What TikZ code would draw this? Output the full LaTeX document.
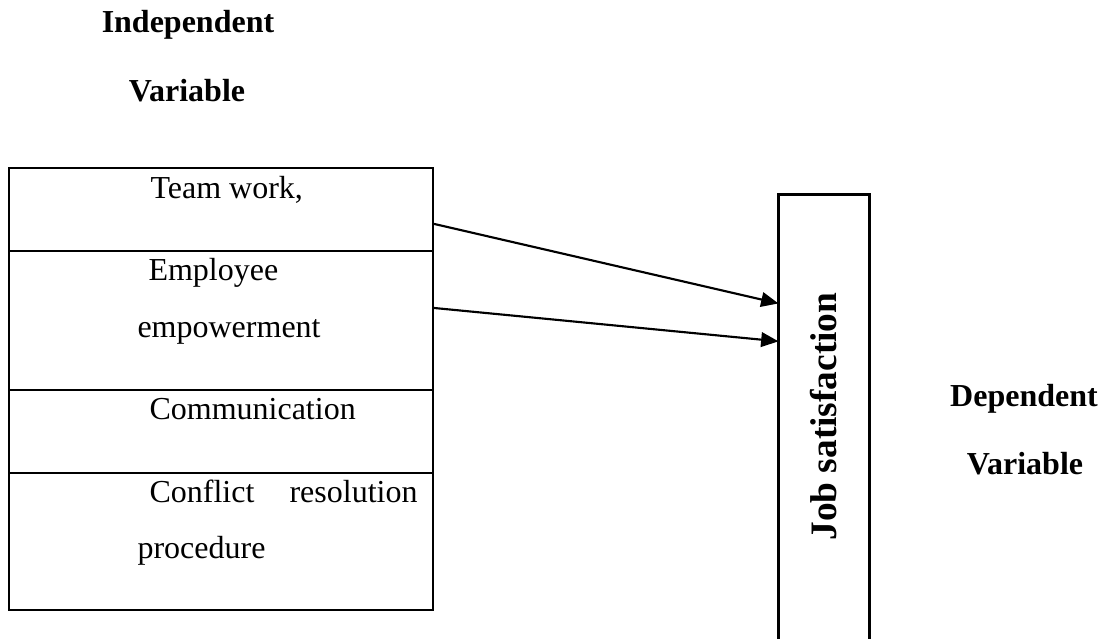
\documentclass[tikz,border=0pt]{standalone}
\usepackage{fontspec}
\setmainfont{Liberation Serif}
\usepackage{tikz}
\usetikzlibrary{arrows.meta}
\newcommand{\pix}{0.375pt}

\begin{document}
\begin{tikzpicture}[auto, x=\pix, y=-\pix,
	cell/.style={draw, line width=0.8pt, minimum width=424*\pix, inner sep=0pt},
	txt/.style={anchor=base west, inner sep=0pt, font=\fontsize{12pt}{14pt}\selectfont},
	head/.style={anchor=base, inner sep=0pt, font=\fontsize{12pt}{14pt}\selectfont\bfseries},
	arr/.style={-{Triangle[length=6.5pt, width=5.5pt]}, line width=0.8pt}]
	\useasboundingbox (0, 0) rectangle (1100, 638);

	\node (indep) [head] at (188, 32) {Independent};
	\node (indepvar) [head] at (187, 101) {Variable};
	\node (dep) [head] at (1024, 406) {Dependent};
	\node (depvar) [head] at (1025, 474) {Variable};

	% left column
	\node (team) [cell, minimum height=83*\pix] at (221, 209.5) {};
	\node (empow) [cell, minimum height=139*\pix] at (221, 320.5) {};
	\node (comm) [cell, minimum height=83*\pix] at (221, 431.5) {};
	\node (conf) [cell, minimum height=137*\pix] at (221, 541.5) {};

	\node (teamtxt) [txt] at (150, 198) {Team work,};
	\node (empowtxt1) [txt] at (148, 280) {Employee};
	\node (empowtxt2) [txt] at (137, 337) {empowerment};
	\node (commtxt) [txt] at (149, 419) {Communication};
	\node (conftxt1) [txt] at (149, 502) {\makebox[100.5pt][s]{Conflict resolution}};
	\node (conftxt2) [txt] at (137, 558) {procedure};

	% right column, open at the bottom
	\node (job) [minimum width=90*\pix, minimum height=443*\pix, inner sep=0pt,
		font=\fontsize{14pt}{16pt}\selectfont\bfseries] at (824, 416.5)
		{\rotatebox{90}{Job satisfaction}\hspace{4.4pt}};
	\draw [line width=0.8pt] (job.south west) -- (job.north west) -- (job.north east) -- (job.south east);

	\draw [arr] ([yshift=-5.4pt]team.east) to ([yshift=42.4pt]job.west);
	\draw [arr] ([yshift=4.7pt]empow.east) to ([yshift=28.2pt]job.west);
\end{tikzpicture}
\end{document}
